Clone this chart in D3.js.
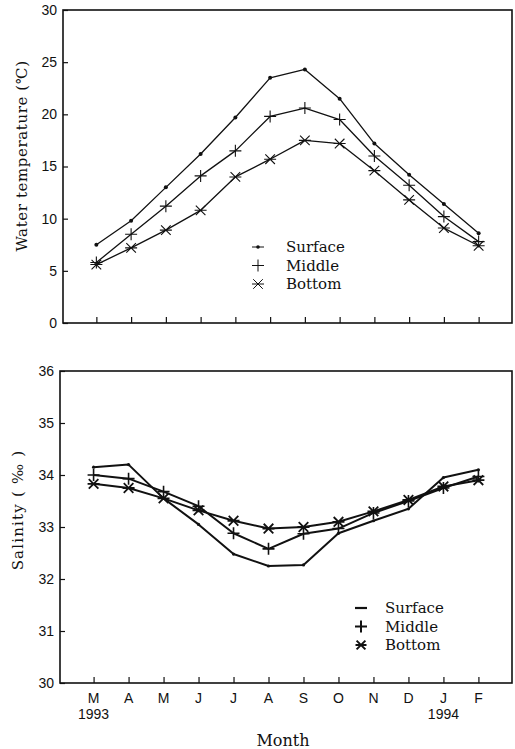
<!DOCTYPE html>
<html>
<head>
<meta charset="utf-8">
<script src="https://cdn.jsdelivr.net/npm/d3@7"></script>
<style>
  body { margin: 0; background: #fff; }
  svg { display: block; }
  .tick-label { font-family: "Liberation Sans", Arial, sans-serif; font-size: 14px; fill: #111; }
  .serif { font-family: "DejaVu Serif", "Liberation Serif", serif; fill: #111; }
</style>
</head>
<body>
<svg id="chart" width="515" height="749"></svg>
<script>
// months along the x axis (March 1993 - February 1994)
var months = ["M", "A", "M", "J", "J", "A", "S", "O", "N", "D", "J", "F"];

// water temperature (C)
var tempSurface = [7.5, 9.8, 13.0, 16.2, 19.7, 23.5, 24.3, 21.5, 17.2, 14.2, 11.4, 8.6];
var tempMiddle  = [5.8, 8.5, 11.2, 14.1, 16.5, 19.8, 20.6, 19.5, 16.0, 13.2, 10.2, 7.8];
var tempBottom  = [5.6, 7.2, 8.9, 10.8, 14.0, 15.7, 17.5, 17.2, 14.6, 11.8, 9.1, 7.4];
var tempTicks = [0, 5, 10, 15, 20, 25, 30];

// salinity (per mille)
var salSurface = [34.15, 34.2, 33.55, 33.05, 32.48, 32.25, 32.27, 32.88, 33.12, 33.35, 33.95, 34.1];
var salMiddle  = [34.0, 33.93, 33.68, 33.4, 32.88, 32.58, 32.87, 32.97, 33.27, 33.5, 33.75, 33.97];
var salBottom  = [33.83, 33.75, 33.55, 33.32, 33.12, 32.97, 33.0, 33.1, 33.3, 33.52, 33.78, 33.9];
var salTicks = [30, 31, 32, 33, 34, 35, 36];

var svg = d3.select("#chart");
var idx = d3.range(months.length);

/////////////////////// marker helpers //////////////////////////

function drawDot(g, x, y, r) {
	g.append("circle").attr("cx", x).attr("cy", y).attr("r", r).style("fill", "#111");
}
function drawPlus(g, x, y, s, w) {
	g.append("path")
		.attr("d", "M" + (x - s) + "," + y + "H" + (x + s) + "M" + x + "," + (y - s) + "V" + (y + s))
		.style("stroke", "#111").style("stroke-width", w).style("fill", "none");
}
function drawStar(g, x, y, s, w) {
	var d = s * 0.8;
	g.append("path")
		.attr("d", "M" + (x - d) + "," + (y - d) + "L" + (x + d) + "," + (y + d) +
			"M" + (x - d) + "," + (y + d) + "L" + (x + d) + "," + (y - d) +
			"M" + (x - s) + "," + y + "H" + (x + s))
		.style("stroke", "#111").style("stroke-width", w).style("fill", "none");
}

/////////////////////// panel builder //////////////////////////

function createPanel(opt) {
	var x = d3.scalePoint().domain(idx).range([opt.left, opt.right]).padding(0.96);
	var y = d3.scaleLinear().domain(opt.domain).range([opt.bottom, opt.top]);
	var g = svg.append("g");

	//Frame
	g.append("rect")
		.attr("x", opt.left).attr("y", opt.top)
		.attr("width", opt.right - opt.left).attr("height", opt.bottom - opt.top)
		.style("fill", "none").style("stroke", "#111").style("stroke-width", 1.6);

	//Y ticks, inside
	var yAxis = g.append("g")
		.attr("transform", "translate(" + opt.left + ",0)")
		.call(d3.axisRight(y).tickValues(opt.ticks).tickSize(5).tickFormat(""));
	yAxis.select(".domain").remove();
	yAxis.selectAll("line").style("stroke", "#111").style("stroke-width", 1.2);
	g.selectAll(".y-label")
		.data(opt.ticks)
		.enter().append("text")
		.attr("class", "tick-label")
		.attr("x", opt.left - 6)
		.attr("y", function(d) { return y(d); })
		.attr("dy", "0.35em")
		.style("text-anchor", "end")
		.text(function(d) { return d; });

	//X ticks, inside
	var xAxis = g.append("g")
		.attr("transform", "translate(0," + opt.bottom + ")")
		.call(d3.axisTop(x).tickSize(6).tickFormat(""));
	xAxis.select(".domain").remove();
	xAxis.selectAll("line").style("stroke", "#111").style("stroke-width", 1.2);

	//Series
	var line = d3.line().x(function(d, i) { return x(i); }).y(function(d) { return y(d); });
	opt.series.forEach(function(s) {
		g.append("path")
			.datum(s.values)
			.attr("d", line)
			.style("fill", "none")
			.style("stroke", "#111")
			.style("stroke-width", opt.lineWidth)
			.style("stroke-linejoin", "round");
		s.values.forEach(function(v, i) {
			s.marker(g, x(i), y(v));
		});
	});

	//Y title
	g.append("text")
		.attr("class", "serif")
		.attr("transform", "translate(" + opt.titleX + "," + opt.titleY + ") rotate(-90)")
		.style("text-anchor", "middle")
		.style("font-size", opt.titleSize + "px")
		.style("letter-spacing", opt.titleSpacing + "px")
		.text(opt.title);

	//Legend
	var legend = g.append("g").attr("transform", "translate(" + opt.legendX + "," + opt.legendY + ")");
	opt.legend.forEach(function(l, i) {
		var ly = i * opt.legendRow;
		l.marker(legend, 0, ly);
		legend.append("text")
			.attr("class", "serif")
			.attr("x", opt.legendText)
			.attr("y", ly)
			.attr("dy", "0.35em")
			.style("font-size", "15px")
			.text(l.name);
	});

	return x;
}

/////////////////////// Temperature //////////////////////////

createPanel({
	left: 63, right: 512, top: 10, bottom: 323,
	domain: [0, 30], ticks: tempTicks, lineWidth: 1.3,
	title: "Water temperature (\u2103)", titleX: 27, titleY: 156, titleSize: 15, titleSpacing: 0.6,
	series: [
		{ values: tempSurface, marker: function(g, x, y) { drawDot(g, x, y, 2); } },
		{ values: tempMiddle, marker: function(g, x, y) { drawPlus(g, x, y, 6, 1.1); } },
		{ values: tempBottom, marker: function(g, x, y) { drawStar(g, x, y, 6, 1.1); } }
	],
	legendX: 258, legendY: 247, legendRow: 18.5, legendText: 28,
	legend: [
		{ name: "Surface", marker: function(g, x, y) {
			g.append("line").attr("x1", x - 6).attr("x2", x + 6).attr("y1", y).attr("y2", y)
				.style("stroke", "#111").style("stroke-width", 1);
			drawDot(g, x, y, 1.8); } },
		{ name: "Middle", marker: function(g, x, y) { drawPlus(g, x, y, 6, 1); } },
		{ name: "Bottom", marker: function(g, x, y) { drawStar(g, x, y, 6, 1); } }
	]
});

/////////////////////// Salinity //////////////////////////

var xSal = createPanel({
	left: 60, right: 512, top: 371, bottom: 683,
	domain: [30, 36], ticks: salTicks, lineWidth: 2,
	title: "Salinity ( \u2030 )", titleX: 23, titleY: 510, titleSize: 15, titleSpacing: 1.2,
	series: [
		{ values: salSurface, marker: function(g, x, y) { drawDot(g, x, y, 1.6); } },
		{ values: salMiddle, marker: function(g, x, y) { drawPlus(g, x, y, 6, 1.6); } },
		{ values: salBottom, marker: function(g, x, y) { drawStar(g, x, y, 6, 1.8); } }
	],
	legendX: 361, legendY: 608, legendRow: 18.5, legendText: 24,
	legend: [
		{ name: "Surface", marker: function(g, x, y) {
			g.append("line").attr("x1", x - 6).attr("x2", x + 6).attr("y1", y).attr("y2", y)
				.style("stroke", "#111").style("stroke-width", 2.2); } },
		{ name: "Middle", marker: function(g, x, y) { drawPlus(g, x, y, 6, 2); } },
		{ name: "Bottom", marker: function(g, x, y) { drawStar(g, x, y, 5.5, 2); } }
	]
});

//Month labels
svg.selectAll(".month-label")
	.data(idx)
	.enter().append("text")
	.attr("class", "tick-label")
	.attr("x", function(d) { return xSal(d); })
	.attr("y", 698)
	.attr("dy", "0.35em")
	.style("text-anchor", "middle")
	.text(function(d) { return months[d]; });

//Year labels
svg.append("text").attr("class", "tick-label")
	.attr("x", xSal(0)).attr("y", 714).attr("dy", "0.35em")
	.style("text-anchor", "middle").text("1993");
svg.append("text").attr("class", "tick-label")
	.attr("x", xSal(10)).attr("y", 714).attr("dy", "0.35em")
	.style("text-anchor", "middle").text("1994");

//X title
svg.append("text")
	.attr("class", "serif")
	.attr("x", 283).attr("y", 740).attr("dy", "0.35em")
	.style("text-anchor", "middle").style("font-size", "16px")
	.text("Month");
</script>
</body>
</html>
